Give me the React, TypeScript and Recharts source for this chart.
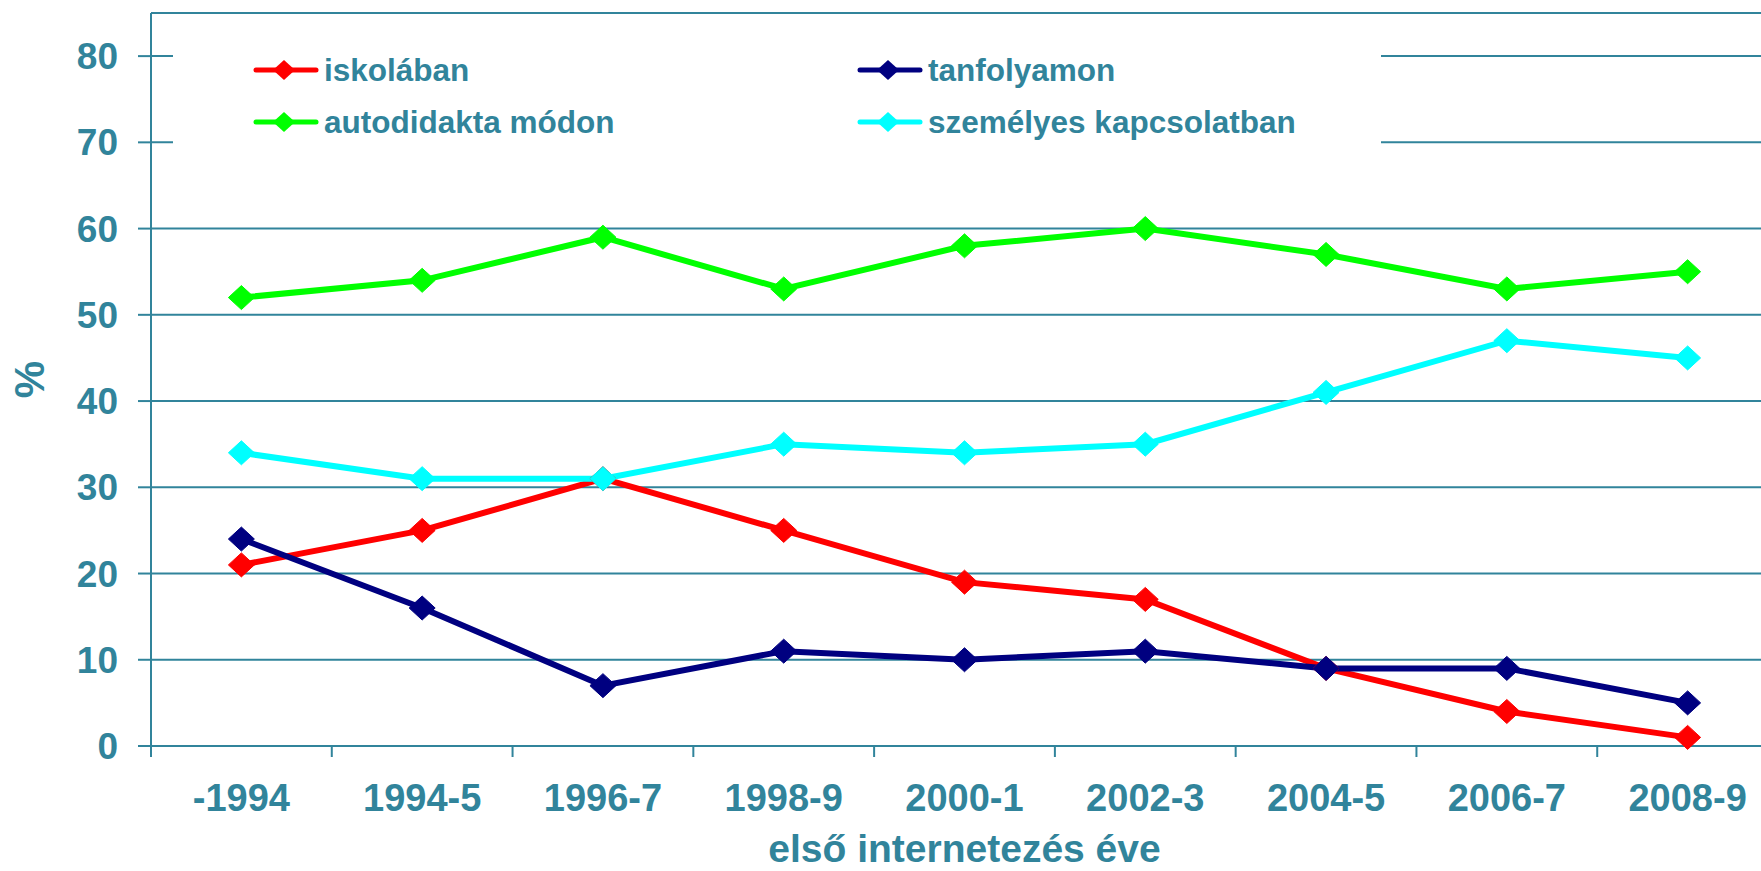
import React from 'react';
import { LineChart, Line, XAxis, YAxis, CartesianGrid, Legend, ReferenceLine } from 'recharts';

const categories = ['-1994', '1994-5', '1996-7', '1998-9', '2000-1', '2002-3', '2004-5', '2006-7', '2008-9'];
const iskolaban = [21, 25, 31, 25, 19, 17, 9, 4, 1];
const tanfolyamon = [24, 16, 7, 11, 10, 11, 9, 9, 5];
const autodidakta = [52, 54, 59, 53, 58, 60, 57, 53, 55];
const szemelyes = [34, 31, 31, 35, 34, 35, 41, 47, 45];
const yTicks = [0, 10, 20, 30, 40, 50, 60, 70, 80];
const xTitle = 'első internetezés éve';
const yTitle = '%';

const data = categories.map((c, i) => ({
  x: i + 0.5,
  cat: c,
  iskolaban: iskolaban[i],
  tanfolyamon: tanfolyamon[i],
  autodidakta: autodidakta[i],
  szemelyes: szemelyes[i],
}));

const xTicks: number[] = [];
for (let i = 0; i <= categories.length; i++) {
  xTicks.push(i);
  if (i < categories.length) xTicks.push(i + 0.5);
}

const TEAL = '#31849B';
const FONT = '"Liberation Sans", Arial, sans-serif';

const series = [
  { key: 'iskolaban', name: 'iskolában', color: '#FF0000' },
  { key: 'tanfolyamon', name: 'tanfolyamon', color: '#000080' },
  { key: 'autodidakta', name: 'autodidakta módon', color: '#00FF00' },
  { key: 'szemelyes', name: 'személyes kapcsolatban', color: '#00FFFF' },
];

const makeDot = (color: string, rx: number, ry: number) => (props: any) => {
  const { cx, cy, index } = props;
  if (cx == null || cy == null) return <g key={`d-${index}`} />;
  return (
    <path
      key={`d-${index}`}
      d={`M${cx},${cy - ry} L${cx + rx},${cy} L${cx},${cy + ry} L${cx - rx},${cy} Z`}
      fill={color}
      stroke={color}
      strokeWidth={1}
    />
  );
};

const XTick = (props: any) => {
  const { x, y, payload } = props;
  const v = payload.value as number;
  if (Number.isInteger(v)) {
    return <line x1={x} x2={x} y1={y} y2={y + 11} stroke={TEAL} strokeWidth={2} />;
  }
  return (
    <text x={x} y={y} dy={65} textAnchor="middle" fill={TEAL} fontFamily={FONT} fontWeight="bold" fontSize={38}>
      {categories[Math.floor(v)]}
    </text>
  );
};

const LegendContent = (props: any) => {
  const payload = [...(props.payload || [])].sort(
    (a: any, b: any) =>
      series.findIndex((s) => s.name === a.value) - series.findIndex((s) => s.name === b.value)
  );
  return (
    <div
      style={{
        display: 'grid',
        gridTemplateColumns: '604px 1fr',
        gridAutoRows: '52px',
        paddingLeft: 80,
        paddingTop: 14,
        boxSizing: 'border-box',
        width: '100%',
        height: '100%',
        background: '#fff',
      }}
    >
      {payload.map((p: any) => (
        <div key={p.value} style={{ display: 'flex', alignItems: 'center' }}>
          <svg width={66} height={26} style={{ flex: 'none' }}>
            <line x1={3} x2={63} y1={13} y2={13} stroke={p.color} strokeWidth={5} strokeLinecap="round" />
            <path d="M31,3 L42,13 L31,23 L20,13 Z" fill={p.color} />
          </svg>
          <span
            style={{
              marginLeft: 5,
              color: TEAL,
              fontFamily: FONT,
              fontWeight: 'bold',
              fontSize: 31.5,
              lineHeight: '52px',
              whiteSpace: 'nowrap',
            }}
          >
            {p.value}
          </span>
        </div>
      ))}
    </div>
  );
};

export default function App() {
  return (
    <div style={{ position: 'absolute', left: 0, top: 0, width: 1761, height: 871, overflow: 'hidden', background: '#fff' }}>
      <LineChart width={1778} height={871} data={data} margin={{ top: 13, right: 0, bottom: 0, left: 0 }}>
        <CartesianGrid vertical={false} stroke={TEAL} strokeWidth={2} />
        <ReferenceLine y={85} stroke={TEAL} strokeWidth={2} />
        <XAxis
          dataKey="x"
          type="number"
          domain={[0, categories.length]}
          ticks={xTicks}
          interval={0}
          tickSize={0}
          tickMargin={0}
          tickLine={false}
          tick={<XTick />}
          axisLine={{ stroke: TEAL, strokeWidth: 2 }}
          height={125}
          label={{
            content: (lp: any) => {
              const vb = lp.viewBox;
              return (
                <text x={vb.x + vb.width / 2} y={vb.y + 116} textAnchor="middle" fill={TEAL} fontFamily={FONT} fontWeight="bold" fontSize={39}>
                  {xTitle}
                </text>
              );
            },
          }}
        />
        <YAxis
          type="number"
          domain={[0, 85]}
          ticks={yTicks}
          interval={0}
          width={151}
          tickSize={13}
          tickMargin={20}
          tickLine={{ stroke: TEAL, strokeWidth: 2 }}
          axisLine={{ stroke: TEAL, strokeWidth: 2 }}
          tick={{ fill: TEAL, fontFamily: FONT, fontWeight: 'bold', fontSize: 37 }}
          label={{
            content: (lp: any) => {
              const vb = lp.viewBox;
              const cx = vb.x + 29;
              const cy = vb.y + vb.height / 2;
              return (
                <text
                  x={cx}
                  y={cy}
                  transform={`rotate(-90 ${cx} ${cy})`}
                  textAnchor="middle"
                  dominantBaseline="central"
                  fill={TEAL}
                  fontFamily={FONT}
                  fontWeight="bold"
                  fontSize={42}
                >
                  {yTitle}
                </text>
              );
            },
          }}
        />
        <Legend
          layout="horizontal"
          verticalAlign="middle"
          align="center"
          content={<LegendContent />}
          wrapperStyle={{ position: 'absolute', left: 173, top: 30, width: 1208, height: 130 }}
        />
        {series.map((s) => (
          <Line
            key={s.key}
            dataKey={s.key}
            name={s.name}
            stroke={s.color}
            strokeWidth={6}
            dot={makeDot(s.color, 13, 12)}
            activeDot={false}
            isAnimationActive={false}
          />
        ))}
      </LineChart>
    </div>
  );
}
